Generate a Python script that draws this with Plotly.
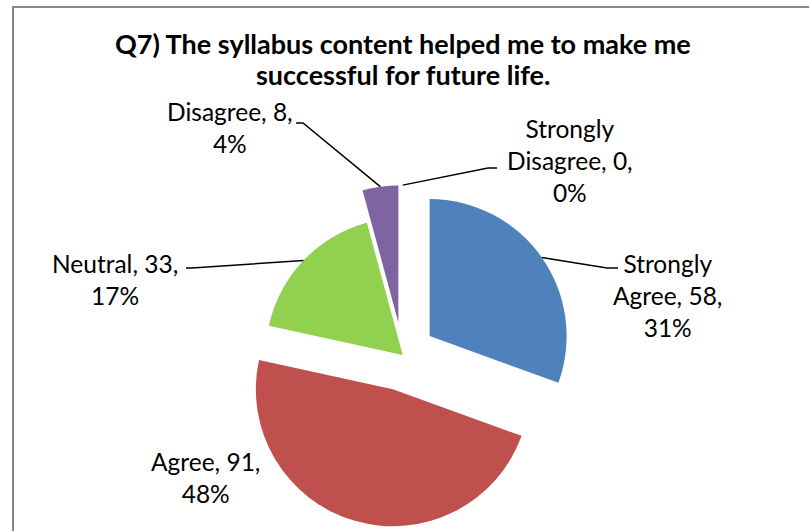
import math
import plotly.graph_objects as go

# ---- data ----
categories = ["Strongly Agree", "Agree", "Neutral", "Disagree", "Strongly Disagree"]
label_names = ["Strongly<br>Agree", "Agree", "Neutral", "Disagree", "Strongly<br>Disagree"]
values = [58, 91, 33, 8, 0]
title_lines = ["Q7) The syllabus content helped me to make me",
               "successful for future life."]

# ---- style ----
colors = ["#4F81BD", "#C0504D", "#92D050", "#8064A2", "#4BACC6"]
pulls = [0.24, 0.26, 0.0, 0.24, 0.24]
FONT = "Lato, 'Open Sans', sans-serif"

W, H = 809, 531
cx_px, cy_px = 402.7, 355.0   # pie centre (pixels)
R_px = 137.0                  # pie radius (pixels)
half = R_px * (1 + max(pulls))
domain_x = [(cx_px - half) / W, (cx_px + half) / W]
domain_y = [1 - (cy_px + half) / H, 1 - (cy_px - half) / H]

# label layout: centre of text block, connector elbow, connector end (pixels)
label_pos = {
    "Strongly Agree": ((667, 295), (607, 268), (618, 268)),
    "Agree": ((205, 477), None, None),
    "Neutral": ((115, 279), (192, 268), (186, 268)),
    "Disagree": ((230, 127), (303, 123), (296, 123)),
    "Strongly Disagree": ((570, 160), (488, 168), (497, 168)),
}
title_y = [44, 74]

total = sum(values)

fig = go.Figure(go.Pie(
    labels=categories,
    values=values,
    sort=False,
    direction="clockwise",
    rotation=0,
    pull=pulls,
    marker=dict(colors=colors, line=dict(width=0)),
    textinfo="none",
    hoverinfo="label+value+percent",
    showlegend=False,
    domain=dict(x=domain_x, y=domain_y),
))

annotations = []
shapes = []
for line, ty in zip(title_lines, title_y):
    annotations.append(dict(
        x=403 / W, y=1 - ty / H, xref="paper", yref="paper",
        text=f"<b>{line}</b>", showarrow=False,
        xanchor="center", yanchor="middle",
        font=dict(family=FONT, size=27, color="#000000"),
    ))

cum = 0
for cat, name, v, p in zip(categories, label_names, values, pulls):
    pct = round(v / total * 100)
    (lx, ly), elbow, end = label_pos[cat]
    annotations.append(dict(
        x=lx / W, y=1 - ly / H, xref="paper", yref="paper",
        text=f"{name}, {v},<br>{pct}%", showarrow=False,
        xanchor="center", yanchor="middle", align="center",
        font=dict(family=FONT, size=24.5, color="#000000"),
    ))
    theta = 2 * math.pi * (cum + v / 2) / total
    cum += v
    if elbow is not None:
        rr = R_px * (1 + p)
        tx = cx_px + rr * math.sin(theta)
        ty = cy_px - rr * math.cos(theta)
        path = (f"M {tx / W},{1 - ty / H} L {elbow[0] / W},{1 - elbow[1] / H} "
                f"L {end[0] / W},{1 - end[1] / H}")
        shapes.append(dict(type="path", xref="paper", yref="paper", path=path,
                           line=dict(color="#000000", width=1.5)))

# chart border
shapes.append(dict(type="rect", xref="paper", yref="paper",
                   x0=13 / W, x1=1.2, y0=-0.2, y1=1 - 7 / H,
                   line=dict(color="#868686", width=2), fillcolor="rgba(0,0,0,0)",
                   layer="below"))

fig.update_layout(
    width=W, height=H,
    margin=dict(l=0, r=0, t=0, b=0),
    paper_bgcolor="#FFFFFF",
    annotations=annotations,
    shapes=shapes,
)

fig.write_html("out.html", config={"displayModeBar": False},
               post_script="document.body.style.margin='0';")
